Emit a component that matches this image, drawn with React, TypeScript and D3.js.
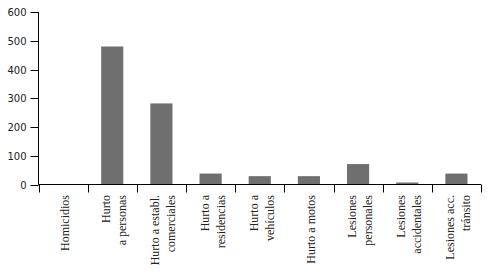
import React from 'react';
import * as d3 from 'd3';

const categories = [
  ['Homicidios'],
  ['Hurto', 'a personas'],
  ['Hurto a establ.', 'comerciales'],
  ['Hurto a', 'residencias'],
  ['Hurto a', 'vehículos'],
  ['Hurto a motos'],
  ['Lesiones', 'personales'],
  ['Lesiones', 'accidentales'],
  ['Lesiones acc.', 'tránsito'],
];
const values = [0, 480, 282, 38, 29, 29, 71, 7, 38];
const yTicks = [0, 100, 200, 300, 400, 500, 600];

const width = 488;
const height = 278;
const left = 38.5;
const right = 481;
const top = 12;
const bottom = 184.5;

export default function App() {
  const keys = categories.map((c) => c.join(' '));
  const x = d3.scaleBand().domain(keys).range([left, right]).padding(0);
  const y = d3.scaleLinear().domain([0, 600]).range([bottom, top]);
  const bw = x.bandwidth();
  const barW = bw * 0.45;
  const edges = keys.map((k) => x(k)).concat([right]);

  return (
    <svg width={width} height={height} style={{ position: 'absolute', left: 0, top: 0 }}>
      {values.map((v, i) => (
        <rect key={i} x={x(keys[i]) + (bw - barW) / 2} y={y(v)} width={barW}
          height={bottom - y(v)} fill="#6f6f6f" />
      ))}
      {/* y axis */}
      <line x1={left} x2={left} y1={top} y2={bottom} stroke="#000" />
      {yTicks.map((t) => (
        <g key={t} transform={`translate(0,${Math.round(y(t)) + 0.5})`}>
          <line x1={left - 8} x2={left} stroke="#000" />
          <text x={left - 12} dy="0.35em" textAnchor="end" fontFamily="DejaVu Sans"
            fontSize={10} fill="#222">{t}</text>
        </g>
      ))}
      {/* x axis */}
      <line x1={left} x2={right} y1={bottom} y2={bottom} stroke="#000" />
      {edges.map((e, i) => (
        <line key={i} x1={Math.round(e) + 0.5} x2={Math.round(e) + 0.5} y1={bottom} y2={bottom + 8} stroke="#000" />
      ))}
      {categories.map((lines, i) => {
        const cx = x(keys[i]) + bw / 2;
        return (
          <g key={i} transform={`translate(${cx},195) rotate(-90)`}>
            {lines.map((l, j) => (
              <text key={j} x={0} y={(j - (lines.length - 1) / 2) * 16 + 6} textAnchor="end"
                fontFamily="Liberation Serif" fontSize={12} fill="#222">{l}</text>
            ))}
          </g>
        );
      })}
    </svg>
  );
}
